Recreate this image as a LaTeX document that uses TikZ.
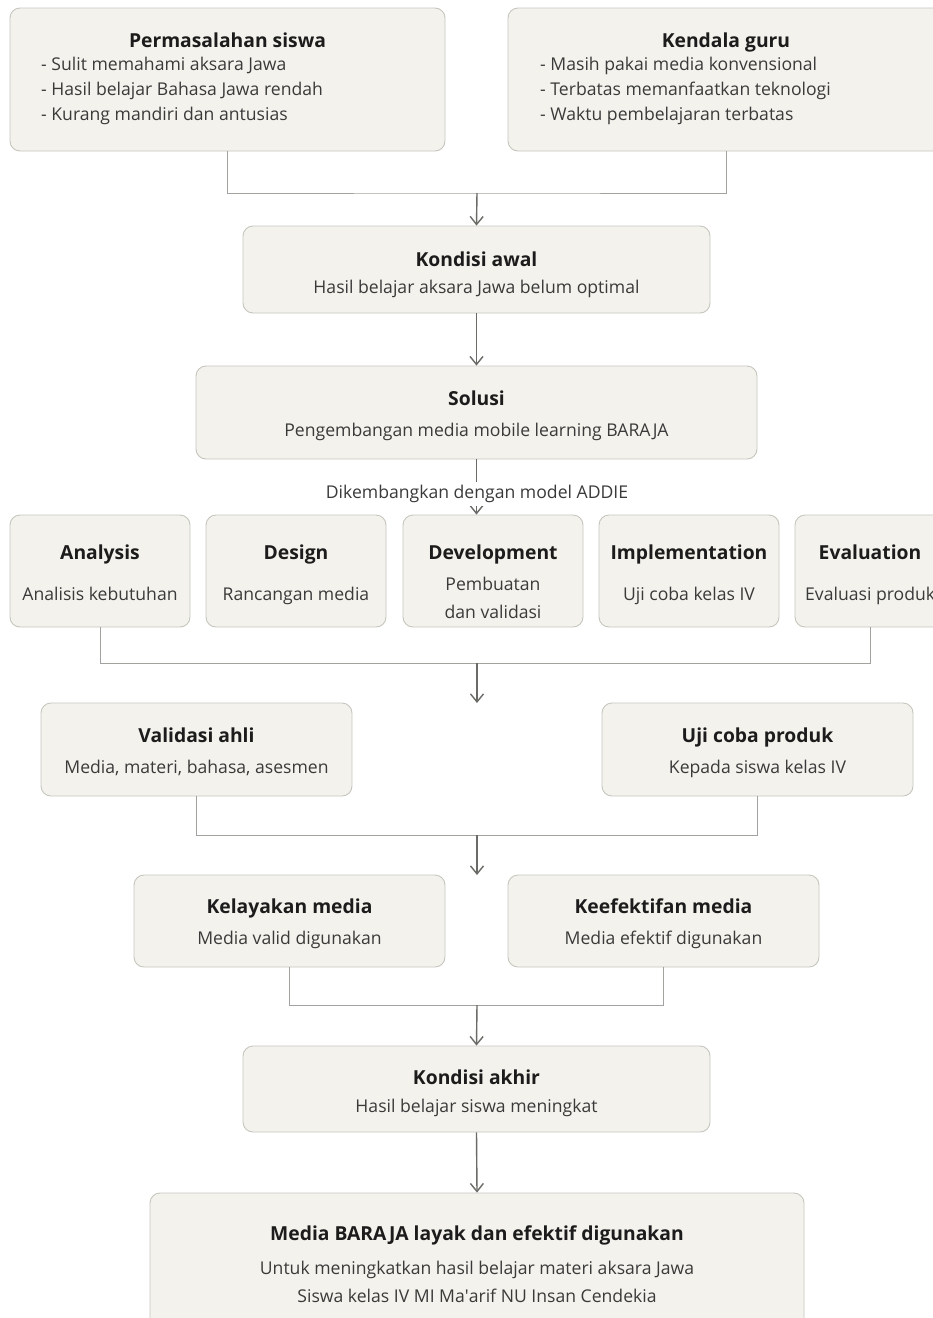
\documentclass[tikz,border=0pt]{standalone}
\usepackage{fontspec}
\setmainfont{Open Sans}
\usetikzlibrary{arrows.meta}
\definecolor{boxfill}{HTML}{F3F2EC}
\definecolor{boxline}{HTML}{C6C6BF}
\definecolor{connc}{HTML}{A2A29E}
\definecolor{arrc}{HTML}{6A6A66}
\definecolor{ttlc}{HTML}{1C1C1C}
\definecolor{txtc}{HTML}{3A3A3A}
\tikzset{
  box/.style={draw=boxline, fill=boxfill, rounded corners=10pt, line width=0.9pt, inner sep=0pt},
  ttl/.style={font=\fontsize{19.3}{22}\selectfont\bfseries, text=ttlc, inner sep=0pt, anchor=base, yshift=-6.5pt},
  txt/.style={font=\fontsize{17.6}{20}\selectfont, text=txtc, inner sep=0pt, anchor=base, yshift=-6.5pt},
  lst/.style={txt, anchor=base west},
  connl/.style={draw=connc, line width=1pt},
  arrl/.style={draw=arrc, line width=1.4pt, -{Straight Barb[length=8pt,width=13pt,line width=1.4pt]}},
}
\begin{document}
\begin{tikzpicture}[x=1pt,y=-1pt]
\useasboundingbox (0,0) rectangle (933,1318);
\clip (0,0) rectangle (933,1318);
\fill[white] (0,0) rectangle (933,1318);
% top boxes
\node[box, minimum width=435pt, minimum height=143pt] (perm) at (227.5,79.5) {};
\node[ttl] (permt) at (227.5,41) {Permasalahan siswa};
\node[lst] (perm1) at (41,64) {- Sulit memahami aksara Jawa};
\node[lst] (perm2) at (41,89) {- Hasil belajar Bahasa Jawa rendah};
\node[lst] (perm3) at (41,114) {- Kurang mandiri dan antusias};
\node[box, minimum width=436pt, minimum height=143pt] (kend) at (726,79.5) {};
\node[ttl] (kendt) at (726,41) {Kendala guru};
\node[lst] (kend1) at (540,64) {- Masih pakai media konvensional};
\node[lst] (kend2) at (540,89) {- Terbatas memanfaatkan teknologi};
\node[lst] (kend3) at (540,114) {- Waktu pembelajaran terbatas};
% kondisi awal
\node[box, minimum width=467pt, minimum height=87pt] (kawal) at (476.5,269.5) {};
\node[ttl] (kawalt) at (476.5,260) {Kondisi awal};
\node[txt] (kawals) at (476.5,287) {Hasil belajar aksara Jawa belum optimal};
% solusi
\node[box, minimum width=561pt, minimum height=93pt] (sol) at (476.5,412.5) {};
\node[ttl] (solt) at (476.5,399) {Solusi};
\node[txt] (sols) at (476.5,430) {Pengembangan media mobile learning BARAJA};
% ADDIE
\node[box, minimum width=180pt, minimum height=112pt] (ana) at (100,571) {};
\node[ttl] (anat) at (100,553) {Analysis};
\node[txt] (anas) at (100,594) {Analisis kebutuhan};
\node[box, minimum width=180pt, minimum height=112pt] (des) at (296,571) {};
\node[ttl] (dest) at (296,553) {Design};
\node[txt] (dess) at (296,594) {Rancangan media};
\node[box, minimum width=180pt, minimum height=112pt] (dev) at (493,571) {};
\node[ttl] (devt) at (493,553) {Development};
\node[txt] (devs1) at (493,584) {Pembuatan};
\node[txt] (devs2) at (493,612) {dan validasi};
\node[box, minimum width=180pt, minimum height=112pt] (imp) at (689,571) {};
\node[ttl] (impt) at (689,553) {Implementation};
\node[txt] (imps) at (689,594) {Uji coba kelas IV};
\node[box, minimum width=180pt, minimum height=112pt] (eva) at (885,571) {};
\node[ttl] (evat) at (870,553) {Evaluation};
\node[txt, anchor=base west] (evas) at (805,594) {Evaluasi produk};
% validasi / uji coba
\node[box, minimum width=311pt, minimum height=93pt] (val) at (196.5,749.5) {};
\node[ttl] (valt) at (196.5,736) {Validasi ahli};
\node[txt] (vals) at (196.5,767) {Media, materi, bahasa, asesmen};
\node[box, minimum width=311pt, minimum height=93pt] (uji) at (757.5,749.5) {};
\node[ttl] (ujit) at (757.5,736) {Uji coba produk};
\node[txt] (ujis) at (757.5,767) {Kepada siswa kelas IV};
% kelayakan / keefektifan
\node[box, minimum width=311pt, minimum height=92pt] (kel) at (289.5,921) {};
\node[ttl] (kelt) at (289.5,907) {Kelayakan media};
\node[txt] (kels) at (289.5,938) {Media valid digunakan};
\node[box, minimum width=311pt, minimum height=92pt] (kef) at (663.5,921) {};
\node[ttl] (keft) at (663.5,907) {Keefektifan media};
\node[txt] (kefs) at (663.5,938) {Media efektif digunakan};
% kondisi akhir
\node[box, minimum width=467pt, minimum height=86pt] (kakh) at (476.5,1089) {};
\node[ttl] (kakht) at (476.5,1078) {Kondisi akhir};
\node[txt] (kakhs) at (476.5,1106) {Hasil belajar siswa meningkat};
% final
\node[box, minimum width=654pt, minimum height=147pt] (fin) at (477,1266.5) {};
\node[ttl] (fint) at (477,1234) {Media BARAJA layak dan efektif digunakan};
\node[txt] (fins1) at (477,1268) {Untuk meningkatkan hasil belajar materi aksara Jawa};
\node[txt] (fins2) at (477,1296) {Siswa kelas IV MI Ma\textquotesingle arif NU Insan Cendekia};
% connectors
\coordinate (j1) at (477,193);
\draw[connl] (perm.south) |- (j1) -| (kend.south);
\draw[arrl] (j1) -- (kawal.north);
\draw[arrl] (kawal.south) -- (sol.north);
\draw[arrl] (sol.south) -- (sol.south |- dev.north);
\node[txt, fill=white, inner sep=3pt, text=txtc] (addie) at (477,492) {Dikembangkan dengan model ADDIE};
\coordinate (j2) at (477,663);
\draw[connl] (ana.south) |- (j2) -| (eva.south -| evat);
\coordinate (j2b) at (477,703);
\draw[arrl] (j2) -- (j2b);
\coordinate (j3) at (477,835);
\draw[connl] (val.south) |- (j3) -| (uji.south);
\coordinate (j3b) at (477,875);
\draw[arrl] (j3) -- (j3b);
\coordinate (j4) at (477,1005);
\draw[connl] (kel.south) |- (j4) -| (kef.south);
\draw[arrl] (j4) -- (kakh.north);
\draw[arrl] (kakh.south) -- (fin.north);
\end{tikzpicture}
\end{document}
